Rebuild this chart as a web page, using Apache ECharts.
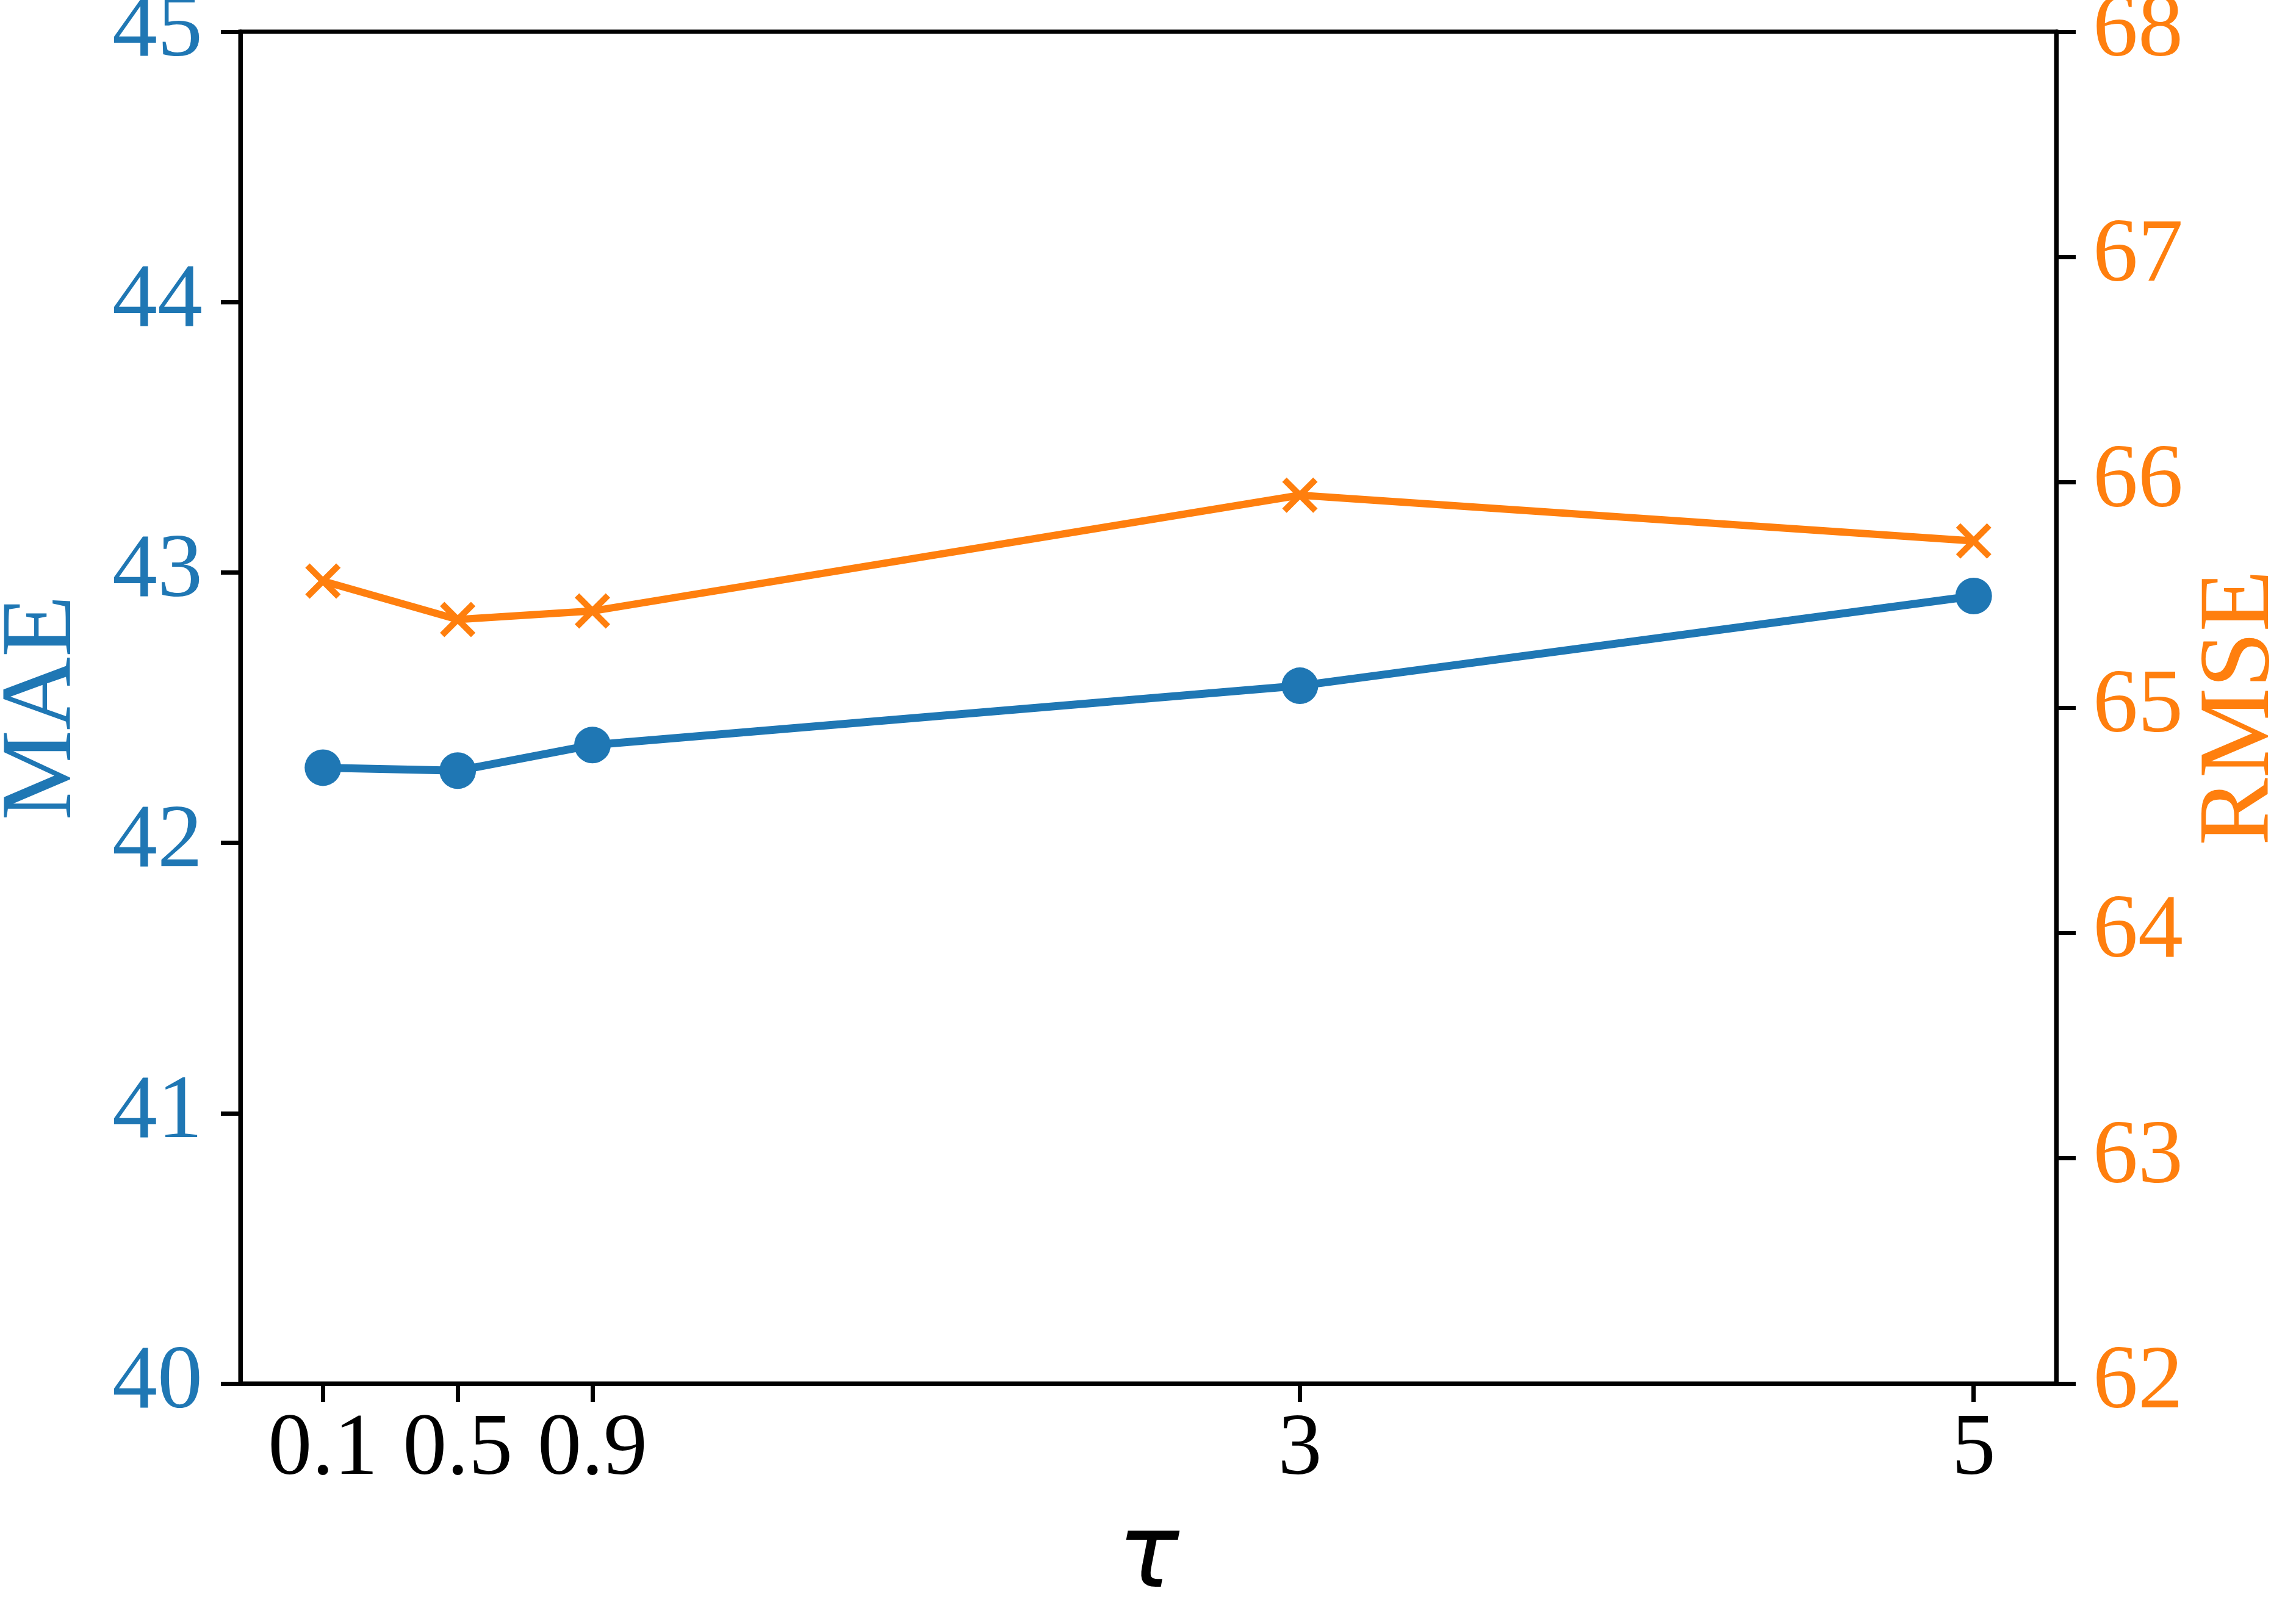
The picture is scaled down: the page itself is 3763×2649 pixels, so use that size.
<!DOCTYPE html>
<html>
<head>
<meta charset="utf-8">
<script src="https://cdn.jsdelivr.net/npm/echarts@6/dist/echarts.min.js"></script>
<style>
html,body{margin:0;padding:0;background:#fff;}
#chart{width:3763px;height:2649px;}
</style>
</head>
<body>
<div id="chart"></div>
<script>
// ---- data ----
var tauValues = [0.1, 0.5, 0.9, 3, 5];
var tauLabels = ['0.1', '0.5', '0.9', '3', '5'];
var maeValues = [42.278, 42.267, 42.362, 42.581, 42.913];
var rmseValues = [65.562, 65.391, 65.429, 65.943, 65.740];
var maeTicks = [40, 41, 42, 43, 44, 45];
var rmseTicks = [62, 63, 64, 65, 66, 67, 68];

var BLUE = '#1f77b4', ORANGE = '#ff7f0e';
var SERIF = '"Liberation Serif", "Times New Roman", serif';
var t = 12.5;
var xPath = 'path://M0,' + t + 'L' + t + ',0L50,' + (50 - t) + 'L' + (100 - t) + ',0L100,' + t +
  'L' + (50 + t) + ',50L100,' + (100 - t) + 'L' + (100 - t) + ',100L50,' + (50 + t) +
  'L' + t + ',100L0,' + (100 - t) + 'L' + (50 - t) + ',50Z';

function pairs(xs, ys) { return xs.map(function (x, i) { return [x, ys[i]]; }); }

var chart = echarts.init(document.getElementById('chart'), null, {renderer: 'canvas'});
chart.setOption({
  backgroundColor: '#fff',
  animation: false,
  grid: {left: 394, right: 393, top: 52, bottom: 381, containLabel: false, outerBoundsMode: 'none',
    show: true, borderColor: '#000', borderWidth: 7, backgroundColor: 'transparent'},
  xAxis: {
    type: 'value', min: -0.145, max: 5.245,
    name: 'τ', nameLocation: 'middle', nameGap: 205,
    nameTextStyle: {fontFamily: '"DejaVu Sans", sans-serif', fontStyle: 'italic', fontSize: 168, color: '#000'},
    axisLine: {show: true, onZero: false, lineStyle: {color: '#000', width: 7}},
    axisTick: {show: true, length: 30, inside: false, lineStyle: {color: '#000', width: 7}, customValues: tauValues},
    axisLabel: {show: true, margin: 38, fontFamily: SERIF, fontSize: 144, color: '#000', customValues: tauValues,
      formatter: function (v) { var i = tauValues.indexOf(v); return i >= 0 ? tauLabels[i] : ''; }},
    splitLine: {show: false}
  },
  yAxis: [{
    type: 'value', min: maeTicks[0], max: maeTicks[maeTicks.length - 1], interval: 1, position: 'left',
    name: 'MAE', nameLocation: 'middle', nameRotate: 90, nameGap: 240,
    nameTextStyle: {fontFamily: SERIF, fontSize: 166, color: BLUE},
    axisLine: {show: true, onZero: false, lineStyle: {color: '#000', width: 7}},
    axisTick: {show: true, length: 32, lineStyle: {color: '#000', width: 7}},
    axisLabel: {margin: 62, fontFamily: SERIF, fontSize: 148, color: BLUE},
    splitLine: {show: false}
  }, {
    type: 'value', min: rmseTicks[0], max: rmseTicks[rmseTicks.length - 1], interval: 1, position: 'right',
    name: 'RMSE', nameLocation: 'middle', nameRotate: 90, nameGap: 220,
    nameTextStyle: {fontFamily: SERIF, fontSize: 166, color: ORANGE},
    axisLine: {show: true, onZero: false, lineStyle: {color: '#000', width: 7}},
    axisTick: {show: true, length: 32, lineStyle: {color: '#000', width: 7}},
    axisLabel: {margin: 60, fontFamily: SERIF, fontSize: 148, color: ORANGE},
    splitLine: {show: false}
  }],
  series: [{
    name: 'MAE', type: 'line', yAxisIndex: 0, data: pairs(tauValues, maeValues),
    symbol: 'circle', symbolSize: 60, showAllSymbol: true,
    lineStyle: {color: BLUE, width: 13}, itemStyle: {color: BLUE, borderWidth: 0}
  }, {
    name: 'RMSE', type: 'line', yAxisIndex: 1, data: pairs(tauValues, rmseValues),
    symbol: xPath, symbolSize: [58, 58], showAllSymbol: true,
    lineStyle: {color: ORANGE, width: 12}, itemStyle: {color: ORANGE, borderWidth: 0}
  }]
});
</script>
</body>
</html>
